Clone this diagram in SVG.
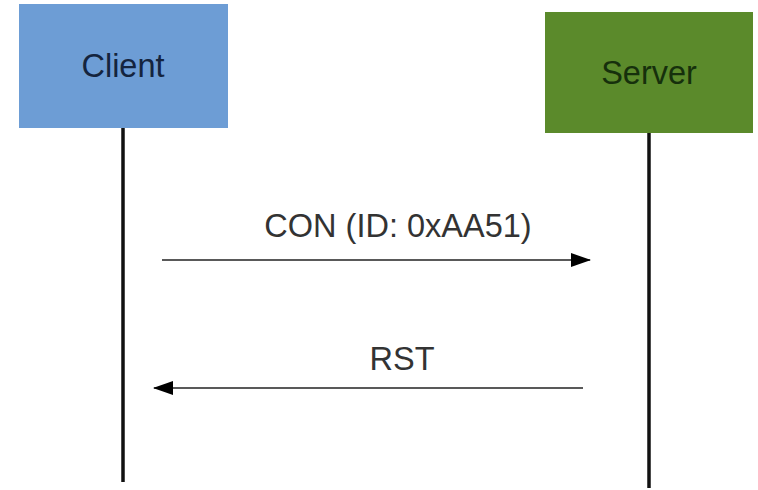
<svg xmlns="http://www.w3.org/2000/svg" width="758" height="490" viewBox="0 0 758 490">
<style>
text{font-family:"Liberation Sans",Arial,sans-serif;font-size:32.5px;text-anchor:middle}
.life{stroke:#111;stroke-width:3.5}
.msg{stroke:#222;stroke-width:1.5;fill:none}
.lbl{fill:#333}
</style>
<defs>
<marker id="ah" markerWidth="20" markerHeight="14" refX="19" refY="7" orient="auto" markerUnits="userSpaceOnUse">
<path d="M0,0 L20,7 L0,14 Z" fill="#000"/>
</marker>
</defs>
<rect width="758" height="490" fill="#fff"/>
<g id="connectors">
<line class="life" x1="123" y1="128" x2="123" y2="482"/>
<line class="life" x1="649" y1="133" x2="649" y2="488"/>
<line class="msg" x1="162" y1="260" x2="590" y2="260" marker-end="url(#ah)"/>
<line class="msg" x1="583" y1="388" x2="154" y2="388" marker-end="url(#ah)"/>
<text class="lbl" x="398" y="237">CON (ID: 0xAA51)</text>
<text class="lbl" x="402" y="370">RST</text>
</g>
<g id="client">
<rect x="19" y="4" width="209" height="124" fill="#6d9dd5"/>
<text x="123" y="77" fill="#14243e">Client</text>
</g>
<g id="server">
<rect x="545" y="12" width="208" height="121" fill="#5b8a2b"/>
<text x="649" y="84" fill="#16300c">Server</text>
</g>
</svg>
